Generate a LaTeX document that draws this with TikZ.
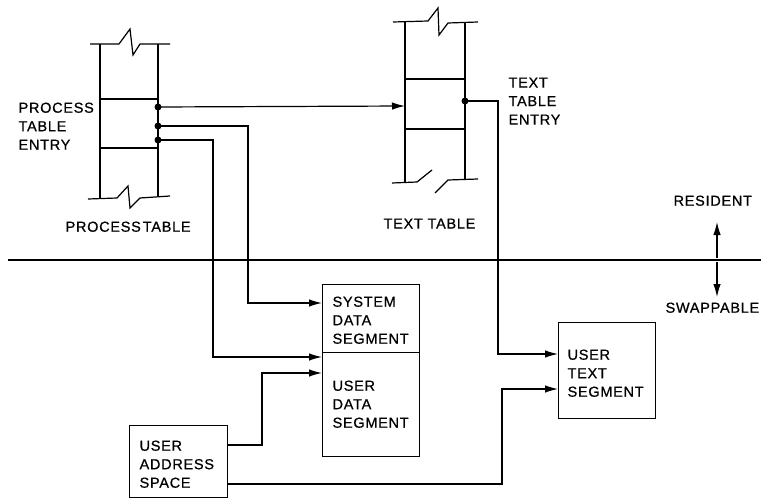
\documentclass[tikz,border=0pt]{standalone}
\usepackage{fontspec}
\setmainfont{Liberation Sans}[LetterSpace=5,FakeBold=0.7]
\usetikzlibrary{arrows.meta}
\begin{document}
\begin{tikzpicture}[x=1pt,y=-1pt,line width=1.2pt,
  lbl/.style={anchor=north west,inner sep=0pt,align=left,font=\fontsize{14.5}{18.5}\selectfont},
  segbox/.style={draw,inner sep=0pt,anchor=north west},
  arr/.style={-{Latex[length=13pt,width=7.5pt]}},
  dotc/.style={fill,circle,inner sep=0pt,minimum size=7pt}]
\useasboundingbox (0,0) rectangle (761,500);
% process table
\draw (90,44) -- (119,44) -- (130,29) -- (133,55) -- (140,44) -- (170,44);
\draw (100,44) -- (100,198);
\draw (158,44) -- (158,196);
\draw (100,99) -- (158,99);
\draw (100,148) -- (158,148);
\draw (88,199) -- (117,198) -- (128,186) -- (130,208) -- (140,198) -- (170,196);
\node[dotc] (p1) at (158,107) {};
\node[dotc] (p2) at (158,126) {};
\node[dotc] (p3) at (158,140) {};
% text table
\draw (393,22) -- (428,21) -- (438,8) -- (439,35) -- (448,23) -- (478,22);
\draw (405,22) -- (405,183);
\draw (465,22) -- (465,180);
\draw (405,79) -- (465,79);
\draw (405,129) -- (465,129);
\draw (392,183) -- (417,182) -- (432,170);
\draw (435,193) -- (448,180) -- (478,179);
\node[dotc] (t1) at (465,101) {};
\coordinate (ttin) at (405,106);
% divider
\coordinate (divL) at (8,260);
\coordinate (divR) at (761,260);
\draw (divL) -- (divR);
\coordinate (rs) at (717,258);
\coordinate (rsu) at (717,222);
\coordinate (rsd) at (717,297);
\draw[arr] (rs) -- (rsu);
\draw[arr] ([yshift=-4pt]rs) -- (rsd);
% boxes
\node[segbox,minimum width=97pt,minimum height=68pt] (sds) at (322,284) {};
\node[segbox,minimum width=97pt,minimum height=104pt] (uds) at (322,352) {};
\node[segbox,minimum width=97pt,minimum height=96pt] (uts) at (558,322) {};
\node[segbox,minimum width=98pt,minimum height=72pt] (uas) at (129,425) {};
% labels
\node[lbl] (l1) at (18,102) {PROCESS\\TABLE\\ENTRY};
\node[lbl] (l2) at (65,221) {PROCESS\kern2pt TABLE};
\node[lbl] (l3) at (508,77) {TEXT\\TABLE\\ENTRY};
\node[lbl] (l4) at (383,218) {TEXT TABLE};
\node[lbl] (l5) at (673,195) {RESIDENT};
\node[lbl] (l6) at (665,302) {SWAPPABLE};
\node[lbl] (l7) at (332,296) {SYSTEM\\DATA\\SEGMENT};
\node[lbl] (l8) at (332,380) {USER\\DATA\\SEGMENT};
\node[lbl] (l9) at (567,349) {USER\\TEXT\\SEGMENT};
\node[lbl] (l10) at (139,440) {USER\\ADDRESS\\SPACE};
% connectors
\draw[arr] (p1.center) -- (ttin);
\draw[arr] (p2.center) -- (248,126) -- (248,303) -- (sds.west |- 0,303);
\draw[arr] (p3.center) -- (213,140) -- (213,357) -- (uds.west |- 0,357);
\draw[arr] (t1.center) -- (498,101) -- (498,354) -- (uts.west |- 0,354);
\draw[arr] (uas.east |- 0,445) -- (262,445) -- (262,373) -- (uds.west |- 0,373);
\draw[arr] (uas.east |- 0,484) -- (502,484) -- (502,389) -- (uts.west |- 0,389);
\end{tikzpicture}
\end{document}
